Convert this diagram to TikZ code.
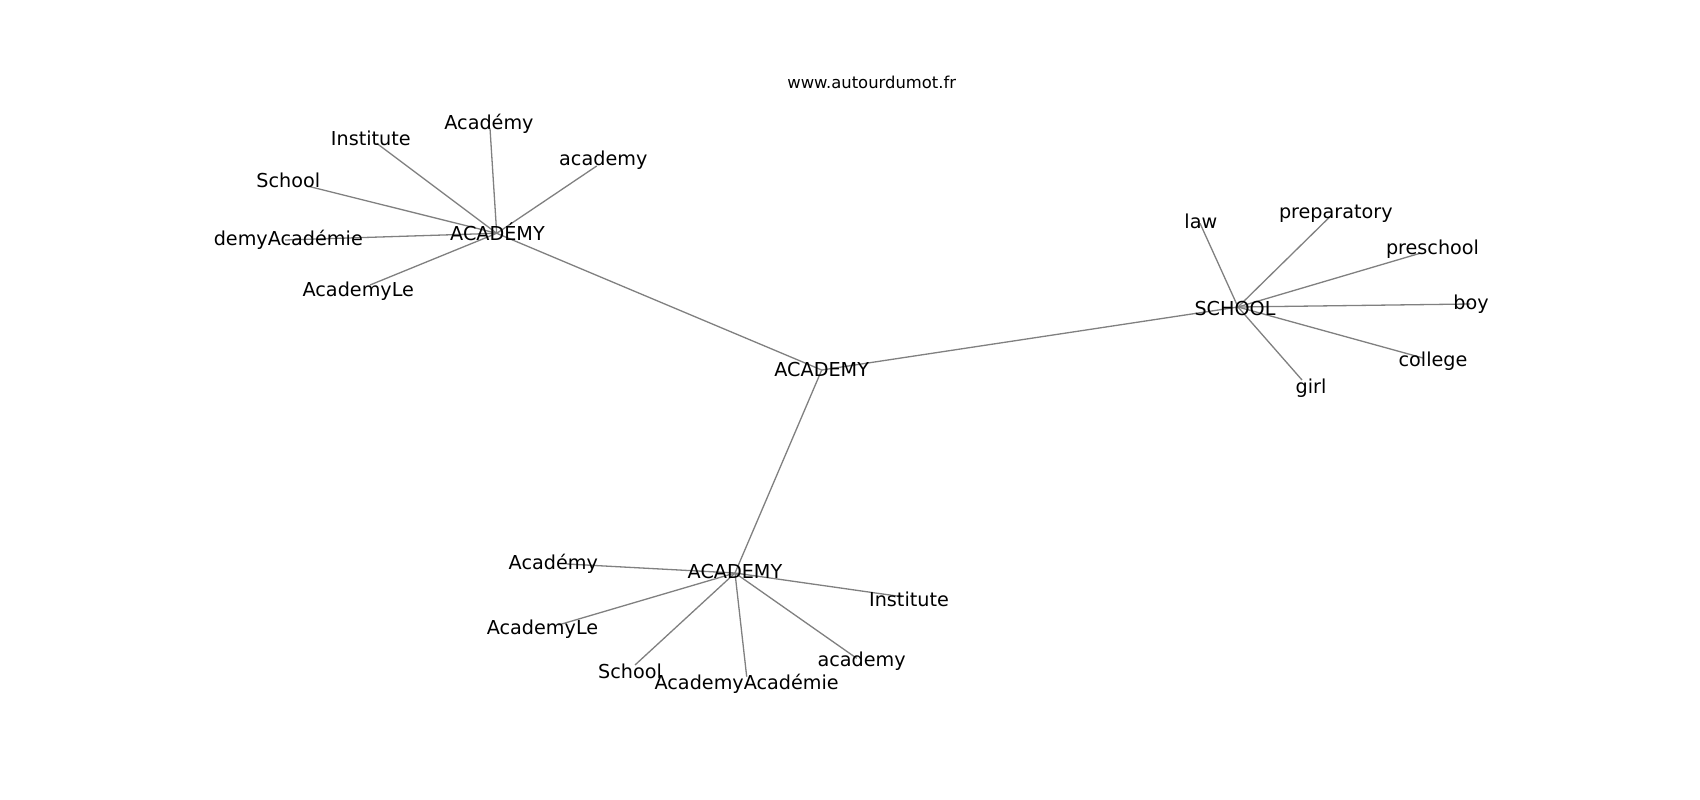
\documentclass[tikz,border=0pt]{standalone}
\usepackage{fontspec}
\setmainfont{DejaVu Sans}
\definecolor{edgegray}{RGB}{128,128,128}
\begin{document}
\begin{tikzpicture}[x=1pt,y=-1pt,
  lbl/.style={font=\fontsize{19.2}{23}\selectfont, inner sep=0pt, text=black},
  ttl/.style={font=\fontsize{16.4}{19}\selectfont, inner sep=0pt, text=black},
  edge/.style={draw=edgegray, line width=1.3pt}]
\fill[white] (0,0) rectangle (1700,800);
\useasboundingbox (0,0) rectangle (1700,800);
% hub points
\coordinate (c) at (821.7,370);
\coordinate (h1) at (496.7,233.3);
\coordinate (h2) at (1238,307);
\coordinate (h3) at (735,573);
% leaves of h1
\coordinate (a1) at (376.7,143.3);
\coordinate (a2) at (490,128.3);
\coordinate (a3) at (596.7,166);
\coordinate (a4) at (310,186.7);
\coordinate (a5) at (285,240);
\coordinate (a6) at (370,285);
% leaves of h2
\coordinate (s1) at (1200,223.3);
\coordinate (s2) at (1331.7,215);
\coordinate (s3) at (1420,253.3);
\coordinate (s4) at (1470,304);
\coordinate (s5) at (1423,358);
\coordinate (s6) at (1302,380);
% leaves of h3
\coordinate (b1) at (567,564);
\coordinate (b2) at (558.3,625);
\coordinate (b3) at (635,665);
\coordinate (b4) at (746.7,676.7);
\coordinate (b5) at (856.7,658.3);
\coordinate (b6) at (901.7,596.7);
% edges
\draw[edge] (c) -- (h1);
\draw[edge] (c) -- (h2);
\draw[edge] (c) -- (h3);
\foreach \n in {a1,a2,a3,a4,a5,a6} \draw[edge] (h1) -- (\n);
\foreach \n in {s1,s2,s3,s4,s5,s6} \draw[edge] (h2) -- (\n);
\foreach \n in {b1,b2,b3,b4,b5,b6} \draw[edge] (h3) -- (\n);
% labels
\node[ttl] (title) at (871.7,82) {www.autourdumot.fr};
\node[lbl] (cL) at (821.7,369.5) {ACADEMY};
\node[lbl] (h1L) at (497.5,231.5) {ACADÉMY};
\node[lbl] (h2L) at (1235,308.5) {SCHOOL};
\node[lbl] (h3L) at (735,571.5) {ACADEMY};
\node[lbl] (a1L) at (370.8,138.8) {Institute};
\node[lbl] (a2L) at (489,123.5) {Académy};
\node[lbl] (a3L) at (603.3,160.5) {academy};
\node[lbl] (a4L) at (288.3,180.5) {School};
\node[lbl] (a5L) at (288.3,239.5) {demyAcadémie};
\node[lbl] (a6L) at (358.3,291) {AcademyLe};
\node[lbl] (s1L) at (1200.8,221.5) {law};
\node[lbl] (s2L) at (1335.8,213.5) {preparatory};
\node[lbl] (s3L) at (1432.5,249.5) {preschool};
\node[lbl] (s4L) at (1471,304.5) {boy};
\node[lbl] (s5L) at (1433,361.5) {college};
\node[lbl] (s6L) at (1311,388) {girl};
\node[lbl] (b1L) at (553.3,563.5) {Académy};
\node[lbl] (b2L) at (542.5,629) {AcademyLe};
\node[lbl] (b3L) at (630,671.5) {School};
\node[lbl] (b4L) at (746.7,683.5) {AcademyAcadémie};
\node[lbl] (b5L) at (861.7,661.5) {academy};
\node[lbl] (b6L) at (909,599) {Institute};
\end{tikzpicture}
\end{document}
